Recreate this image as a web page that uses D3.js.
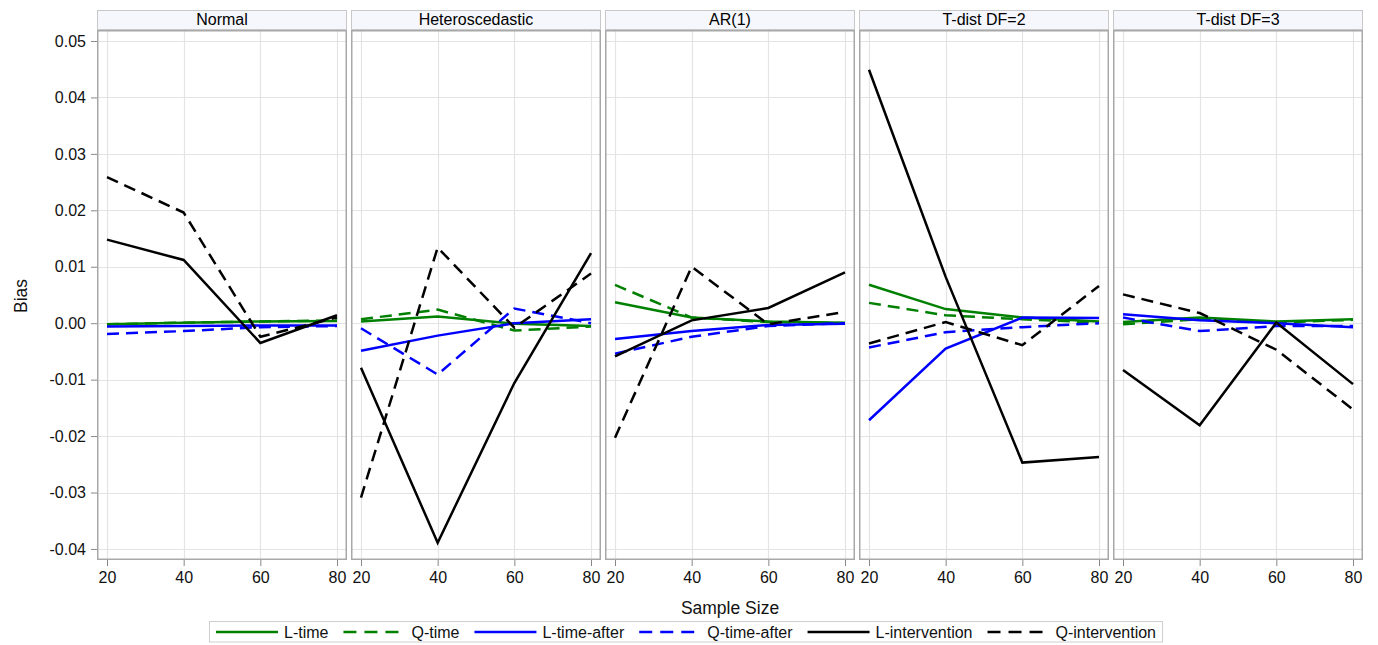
<!DOCTYPE html>
<html>
<head>
<meta charset="utf-8">
<script src="https://cdn.jsdelivr.net/npm/d3@7"></script>
<style>
  html, body { margin: 0; padding: 0; background: #fff; }
  svg { display: block; font-family: "Liberation Sans", Arial, sans-serif; }
</style>
</head>
<body>
<svg id="chart" width="1378" height="645"></svg>
<script>
// ---------------- data ----------------
const sampleSizes = [20, 40, 60, 80];
const panelNames = ["Normal", "Heteroscedastic", "AR(1)", "T-dist DF=2", "T-dist DF=3"];
const yTickValues = [-0.04, -0.03, -0.02, -0.01, 0.00, 0.01, 0.02, 0.03, 0.04, 0.05];
const xTickValues = [20, 40, 60, 80];
const seriesNames = ["L-time", "Q-time", "L-time-after", "Q-time-after", "L-intervention", "Q-intervention"];

// one row per panel (Normal, Heteroscedastic, AR(1), T-dist DF=2, T-dist DF=3), values at n = 20, 40, 60, 80
const lTime = [
  [-0.0002, 0.0001, 0.0003, 0.0004],
  [0.0003, 0.0012, -0.0001, -0.0005],
  [0.0037, 0.0010, 0.0003, 0.0001],
  [0.0068, 0.0025, 0.0010, 0.0003],
  [0.0002, 0.0010, 0.0003, 0.0007]
];
const qTime = [
  [-0.0002, 0.0001, 0.0003, 0.0005],
  [0.0007, 0.0024, -0.0013, -0.0006],
  [0.0068, 0.0010, 0.0002, 0.0000],
  [0.0036, 0.0014, 0.0007, 0.0001],
  [-0.0002, 0.0007, 0.0001, 0.0006]
];
const lTimeAfter = [
  [-0.0006, -0.0005, -0.0004, -0.0004],
  [-0.0049, -0.0022, 0.0000, 0.0007],
  [-0.0028, -0.0014, -0.0003, -0.0001],
  [-0.0172, -0.0045, 0.0010, 0.0009],
  [0.0016, 0.0005, 0.0000, -0.0007]
];
const qTimeAfter = [
  [-0.0019, -0.0014, -0.0007, -0.0005],
  [-0.0009, -0.0091, 0.0026, 0.0000],
  [-0.0054, -0.0024, -0.0005, 0.0000],
  [-0.0043, -0.0016, -0.0007, 0.0000],
  [0.0010, -0.0014, -0.0005, -0.0005]
];
const lIntervention = [
  [0.0148, 0.0112, -0.0035, 0.0014],
  [-0.0079, -0.0389, -0.0106, 0.0124],
  [-0.0059, 0.0005, 0.0027, 0.0090],
  [0.0449, 0.0082, -0.0247, -0.0237],
  [-0.0083, -0.0181, 0.0001, -0.0108]
];
const qIntervention = [
  [0.0259, 0.0196, -0.0024, 0.0010],
  [-0.0309, 0.0134, -0.0008, 0.0088],
  [-0.0203, 0.0100, -0.0002, 0.0020],
  [-0.0036, 0.0002, -0.0039, 0.0066],
  [0.0051, 0.0018, -0.0047, -0.0153]
];

// ---------------- styling ----------------
const seriesData = [lTime, qTime, lTimeAfter, qTimeAfter, lIntervention, qIntervention];
const seriesColors = ["#008000", "#008000", "#0000ff", "#0000ff", "#000000", "#000000"];
const seriesDashed = [false, true, false, true, false, true];
const DASH = "12,7";

const svg = d3.select("#chart");
const FONT = 16;

const panelLeft0 = 97, panelW = 250, panelGap = 4;
const headerTop = 10, headerBottom = 30;
const plotTop = 30, plotBottom = 560;
const xPad = 10;

const y = d3.scaleLinear().domain([-0.04196, 0.05195]).range([plotBottom, plotTop]);

panelNames.forEach((name, i) => {
  const left = panelLeft0 + i * (panelW + panelGap);
  const right = left + panelW;
  const x = d3.scaleLinear().domain([20, 80]).range([left + xPad, right - xPad]);
  const g = svg.append("g");

  // header strip
  g.append("rect")
    .attr("x", left + 0.5).attr("y", headerTop + 0.5)
    .attr("width", panelW - 1).attr("height", headerBottom - headerTop - 1)
    .attr("fill", "#f5f7fd").attr("stroke", "#c8c8c8").attr("stroke-width", 1);
  g.append("text")
    .attr("x", (left + right) / 2).attr("y", headerBottom - 5)
    .attr("text-anchor", "middle").attr("font-size", 16).attr("fill", "#000")
    .text(name);

  // grid
  g.append("g").selectAll("line.hg").data(yTickValues).join("line")
    .attr("x1", left).attr("x2", right)
    .attr("y1", d => Math.round(y(d)) + 0.5).attr("y2", d => Math.round(y(d)) + 0.5)
    .attr("stroke", "#e4e4e4").attr("stroke-width", 1.2);
  g.append("g").selectAll("line.vg").data(xTickValues).join("line")
    .attr("x1", d => Math.round(x(d)) + 0.5).attr("x2", d => Math.round(x(d)) + 0.5)
    .attr("y1", plotTop).attr("y2", plotBottom)
    .attr("stroke", "#e4e4e4").attr("stroke-width", 1.2);

  // x axis
  const xAxis = d3.axisBottom(x).tickValues(xTickValues).tickSize(6).tickPadding(6).tickFormat(d3.format("d"));
  const xa = g.append("g").attr("transform", `translate(0,${plotBottom})`).call(xAxis);
  xa.select(".domain").remove();
  xa.selectAll(".tick line").attr("stroke", "#888");
  xa.selectAll(".tick text").attr("font-size", FONT).attr("fill", "#111")
    .attr("font-family", "Liberation Sans, Arial, sans-serif");

  // series lines
  const line = d3.line().x((d, k) => x(sampleSizes[k])).y(d => y(d));
  seriesData.forEach((s, si) => {
    g.append("path")
      .datum(s[i])
      .attr("d", line)
      .attr("fill", "none")
      .attr("stroke", seriesColors[si])
      .attr("stroke-width", 2.5)
      .attr("stroke-dasharray", seriesDashed[si] ? DASH : null)
      .attr("stroke-linejoin", "miter");
  });

  // frame
  g.append("rect")
    .attr("x", left + 0.75).attr("y", plotTop + 0.75)
    .attr("width", panelW - 1.5).attr("height", plotBottom - plotTop - 1.5)
    .attr("fill", "none").attr("stroke", "#a8a8a8").attr("stroke-width", 1.5);

  // y axis on first panel
  if (i === 0) {
    const yAxis = d3.axisLeft(y).tickValues(yTickValues).tickSize(6).tickPadding(5).tickFormat(d3.format(".2f"));
    const ya = g.append("g").attr("transform", `translate(${left},0)`).call(yAxis);
    ya.select(".domain").remove();
    ya.selectAll(".tick line").attr("stroke", "#888");
    ya.selectAll(".tick text").attr("font-size", FONT).attr("fill", "#111")
      .attr("font-family", "Liberation Sans, Arial, sans-serif")
      .text(d => d3.format(".2f")(d).replace("−", "-"));
  }
});

// axis titles
const plotsCenter = (panelLeft0 + panelLeft0 + 5 * panelW + 4 * panelGap) / 2;
svg.append("text")
  .attr("x", plotsCenter).attr("y", 614)
  .attr("text-anchor", "middle").attr("font-size", 17.5).attr("fill", "#111")
  .text("Sample Size");
svg.append("text")
  .attr("transform", "translate(27,296) rotate(-90)")
  .attr("text-anchor", "middle").attr("font-size", 17.5).attr("fill", "#111")
  .text("Bias");

// legend
const legend = svg.append("g");
const symW = 62, symGap = 6, itemGap = 15, legY = 632;
const items = legend.selectAll("g.item").data(seriesNames).join("g");
items.append("line")
  .attr("x1", 0).attr("x2", symW).attr("y1", legY).attr("y2", legY)
  .attr("stroke", (d, k) => seriesColors[k]).attr("stroke-width", 2.5)
  .attr("stroke-dasharray", (d, k) => seriesDashed[k] ? "13,8" : null);
items.append("text")
  .attr("x", symW + symGap).attr("y", legY + 5.5)
  .attr("font-size", FONT).attr("fill", "#111")
  .text(d => d);
const widths = [];
items.each(function () {
  const w = symW + symGap + d3.select(this).select("text").node().getComputedTextLength();
  widths.push(w);
});
const total = d3.sum(widths) + itemGap * (widths.length - 1);
const legCenter = 686;
let startX = legCenter - total / 2;
items.each(function (d, k) {
  d3.select(this).attr("transform", `translate(${startX},0)`);
  startX += widths[k] + itemGap;
});
legend.insert("rect", ":first-child")
  .attr("x", legCenter - total / 2 - 6.5).attr("y", 621.5)
  .attr("width", total + 13).attr("height", 20.5)
  .attr("fill", "#fff").attr("stroke", "#cfcfcf").attr("stroke-width", 1);
</script>
</body>
</html>
